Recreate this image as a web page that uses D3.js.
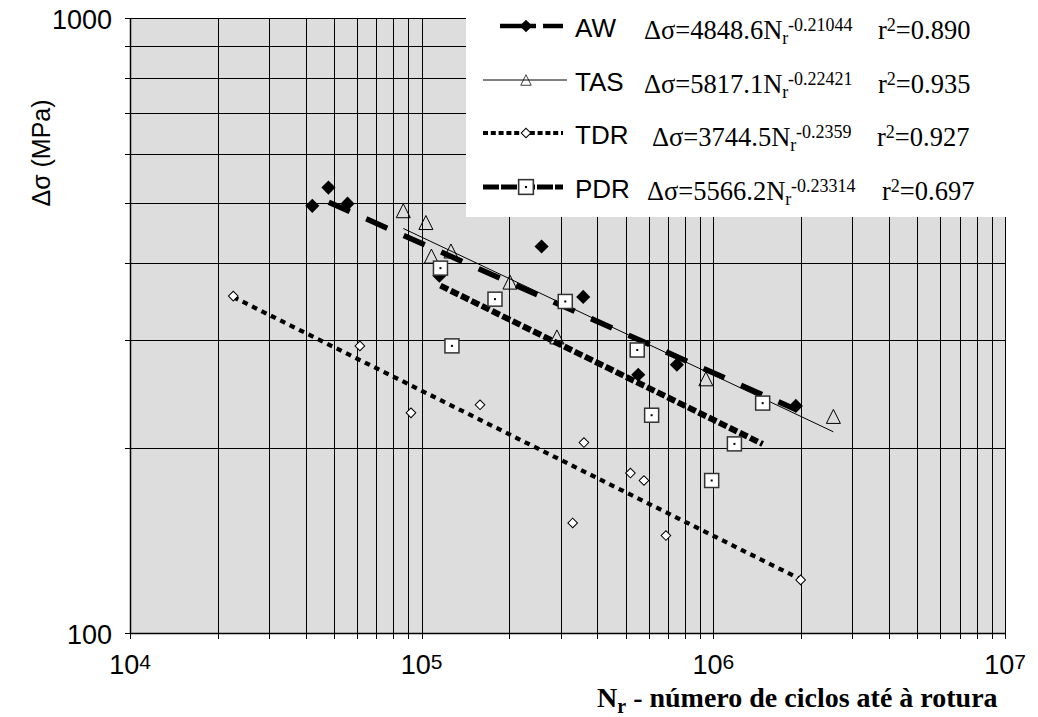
<!DOCTYPE html>
<html>
<head>
<meta charset="utf-8">
<script src="https://cdn.jsdelivr.net/npm/d3@7"></script>
<style>
  body { margin: 0; background: #fff; }
  svg text { font-family: "Liberation Sans", Arial, sans-serif; }
  .serif { font-family: "Liberation Serif", "Times New Roman", serif !important; }
</style>
</head>
<body>
<div id="chart"></div>
<script>
const MARGIN = { top: 18, right: 33, bottom: 84, left: 130 };
const width = 1038;
const height = 717;

// values (cycles to failure, stress range in MPa)
const awCycles = [42170, 47900, 55700, 115000, 257700, 358000, 552800, 750000, 1918000];
const awStress = [495, 530, 499, 381, 425, 352, 263, 273, 234];

const tasCycles = [86500, 103400, 108000, 126000, 200800, 290900, 943000, 2580000];
const tasStress = [486, 465, 410, 418, 372, 303, 259, 225];

const tdrCycles = [22600, 61400, 91900, 158500, 329400, 360100, 519800, 578300, 687800, 1992000];
const tdrStress = [353, 293, 228, 235, 151, 204, 182, 177, 144, 122];

const pdrCycles = [116000, 178400, 127000, 310700, 548400, 614400, 1476000, 1181000, 987000];
const pdrStress = [392, 349, 293, 346, 288.5, 226, 236.5, 203, 177];

const seriesNames = ["AW", "TAS", "TDR", "PDR"];
const fitCoef = ["4848.6", "5817.1", "3744.5", "5566.2"];
const fitExp = ["-0.21044", "-0.22421", "-0.2359", "-0.23314"];
const fitR2 = ["0.890", "0.935", "0.927", "0.697"];

const xTickExps = [4, 5, 6, 7];
const yTickLabels = [100, 1000];

// line / marker style for each series
const STYLES = {
    AW: { width: 5.5, dash: "23,18", offset: 23, legendWidth: 4.5, legendDash: "36,7", marker: "diamond" },
    TAS: { width: 1, dash: null, offset: 0, legendWidth: 1, legendDash: null, marker: "triangle" },
    TDR: { width: 4.2, dash: "5.5,5", offset: 0, legendWidth: 4, legendDash: "5,2.8", marker: "smallDiamond" },
    PDR: { width: 6, dash: "8.5,3", offset: 0, legendWidth: 5, legendDash: "16,2", marker: "square" },
};

function drawMarker(g, type, cx, cy, scale = 1) {
    const m = g.append("g").attr("transform", `translate(${cx},${cy}) scale(${scale})`);
    if (type === "diamond") {
        m.append("rect")
            .attr("x", -5).attr("y", -5)
            .attr("width", 10).attr("height", 10)
            .attr("transform", "rotate(45)")
            .style("fill", "#000");
    } else if (type === "smallDiamond") {
        m.append("rect")
            .attr("x", -3.4).attr("y", -3.4)
            .attr("width", 6.8).attr("height", 6.8)
            .attr("transform", "rotate(45)")
            .style("fill", "#fff")
            .style("stroke", "#000")
            .style("stroke-width", 1);
    } else if (type === "triangle") {
        m.append("path")
            .attr("d", "M0,-7L7,7L-7,7Z")
            .style("fill", "none")
            .style("stroke", "#000")
            .style("stroke-width", 1);
    } else if (type === "square") {
        m.append("rect")
            .attr("x", -7).attr("y", -7)
            .attr("width", 14).attr("height", 14)
            .style("fill", "#fff")
            .style("stroke", "#333")
            .style("stroke-width", 1.5);
        m.append("rect")
            .attr("x", -1).attr("y", -1)
            .attr("width", 2).attr("height", 2)
            .style("fill", "#000");
    }
}

function drawChart(targetId) {
    const innerWidth = width - MARGIN.left - MARGIN.right;
    const innerHeight = height - MARGIN.top - MARGIN.bottom;

    const svg = d3.select(`#${targetId}`)
        .append("svg")
        .attr("width", width)
        .attr("height", height);

    const inner = svg.append("g")
        .attr("transform", `translate(${MARGIN.left},${MARGIN.top})`);

    const x = d3.scaleLog().domain([1e4, 1e7]).range([0, innerWidth]);
    const y = d3.scaleLog().domain([100, 1000]).range([innerHeight, 0]);

    // plot background
    inner.append("rect")
        .attr("width", innerWidth)
        .attr("height", innerHeight)
        .style("fill", "#dcdddc");

    const xGrid = x.ticks();   // 1..9 x 10^k
    const yGrid = y.ticks();   // 100..1000 step 100

    const snap = (v) => Math.round(v) + 0.5;

    inner.append("g").selectAll("line")
        .data(xGrid)
        .join("line")
        .attr("x1", (d) => snap(x(d))).attr("x2", (d) => snap(x(d)))
        .attr("y1", 0).attr("y2", innerHeight + 6)
        .style("stroke", "#000").style("stroke-width", 1);

    inner.append("g").selectAll("line")
        .data(yGrid)
        .join("line")
        .attr("x1", -5).attr("x2", innerWidth)
        .attr("y1", (d) => snap(y(d))).attr("y2", (d) => snap(y(d)))
        .style("stroke", "#000").style("stroke-width", 1);

    // axis lines
    inner.append("line")
        .attr("x1", snap(0)).attr("x2", snap(0))
        .attr("y1", 0).attr("y2", innerHeight)
        .style("stroke", "#000").style("stroke-width", 1.5);
    inner.append("line")
        .attr("x1", 0).attr("x2", innerWidth)
        .attr("y1", snap(innerHeight)).attr("y2", snap(innerHeight))
        .style("stroke", "#000").style("stroke-width", 1.5);

    // tick labels
    const xLab = inner.append("g").selectAll("text")
        .data(xTickExps)
        .join("text")
        .attr("x", (d) => x(Math.pow(10, d)))
        .attr("y", innerHeight + 41)
        .attr("text-anchor", "middle")
        .style("font-size", "27px");
    xLab.append("tspan").text("10");
    xLab.append("tspan")
        .attr("dy", -5)
        .style("font-size", "21px")
        .text((d) => d);

    inner.append("g").selectAll("text")
        .data(yTickLabels)
        .join("text")
        .attr("x", -18)
        .attr("y", (d) => y(d) + 11)
        .attr("text-anchor", "end")
        .style("font-size", "27px")
        .text((d) => d);

    // axis titles
    svg.append("text")
        .attr("transform", "translate(50,153) rotate(-90)")
        .attr("text-anchor", "middle")
        .style("font-size", "25px")
        .text("Δσ (MPa)");

    const xTitle = svg.append("text")
        .attr("class", "serif")
        .attr("x", 597)
        .attr("y", 707)
        .style("font-size", "28px")
        .style("font-weight", "bold");
    xTitle.append("tspan").text("N");
    xTitle.append("tspan").attr("dy", 6).style("font-size", "20px").text("r");
    xTitle.append("tspan").attr("dy", -6).text(" - número de ciclos até à rotura");

    const series = [
        { name: "AW", cycles: awCycles, stress: awStress },
        { name: "TAS", cycles: tasCycles, stress: tasStress },
        { name: "TDR", cycles: tdrCycles, stress: tdrStress },
        { name: "PDR", cycles: pdrCycles, stress: pdrStress },
    ];

    // power-law trend lines (straight on log-log axes)
    series.forEach((s, i) => {
        const a = +fitCoef[i];
        const b = +fitExp[i];
        const st = STYLES[s.name];
        const line = d3.line()
            .x((d) => x(d))
            .y((d) => y(a * Math.pow(d, b)));
        inner.append("path")
            .datum(d3.extent(s.cycles))
            .attr("d", line)
            .style("fill", "none")
            .style("stroke", "#000")
            .style("stroke-width", st.width)
            .style("stroke-dasharray", st.dash)
            .style("stroke-dashoffset", st.offset);
    });

    // markers
    series.forEach((s) => {
        const g = inner.append("g").attr("class", `markers-${s.name}`);
        s.cycles.forEach((c, j) => {
            drawMarker(g, STYLES[s.name].marker, x(c), y(s.stress[j]));
        });
    });

    // legend box
    const legend = svg.append("g").attr("class", "legend");
    legend.append("rect")
        .attr("x", 466).attr("y", 0)
        .attr("width", width - 466).attr("height", 217)
        .style("fill", "#fff");

    const rowBase = [37, 91, 144, 198];
    const eqX = [644, 644, 652, 647];
    const r2X = [878, 878, 877, 882];
    const markerScale = [0.9, 0.75, 1, 1.05];

    seriesNames.forEach((name, i) => {
        const st = STYLES[name];
        const cy = rowBase[i] - 11;
        legend.append("line")
            .attr("x1", name === "AW" ? 500 : 483)
            .attr("x2", name === "TAS" ? 567 : 563)
            .attr("y1", cy).attr("y2", cy)
            .style("stroke", "#000")
            .style("stroke-width", st.legendWidth)
            .style("stroke-dasharray", st.legendDash);
        drawMarker(legend, st.marker, 526, cy, markerScale[i]);

        legend.append("text")
            .attr("x", 575)
            .attr("y", rowBase[i])
            .style("font-size", "26px")
            .text(name);

        const eq = legend.append("text")
            .attr("class", "serif")
            .attr("x", eqX[i])
            .attr("y", rowBase[i] + 2)
            .style("font-size", "26.5px");
        eq.append("tspan").text(`Δσ=${fitCoef[i]}N`);
        eq.append("tspan").attr("dy", 5).style("font-size", "18px").text("r");
        eq.append("tspan").attr("dy", -13).style("font-size", "18px").text(fitExp[i]);

        const r2 = legend.append("text")
            .attr("class", "serif")
            .attr("x", r2X[i])
            .attr("y", rowBase[i] + 2)
            .style("font-size", "26.5px");
        r2.append("tspan").text("r");
        r2.append("tspan").attr("dy", -8).style("font-size", "18px").text("2");
        r2.append("tspan").attr("dy", 8).text(`=${fitR2[i]}`);
    });
}

drawChart("chart");
</script>
</body>
</html>
